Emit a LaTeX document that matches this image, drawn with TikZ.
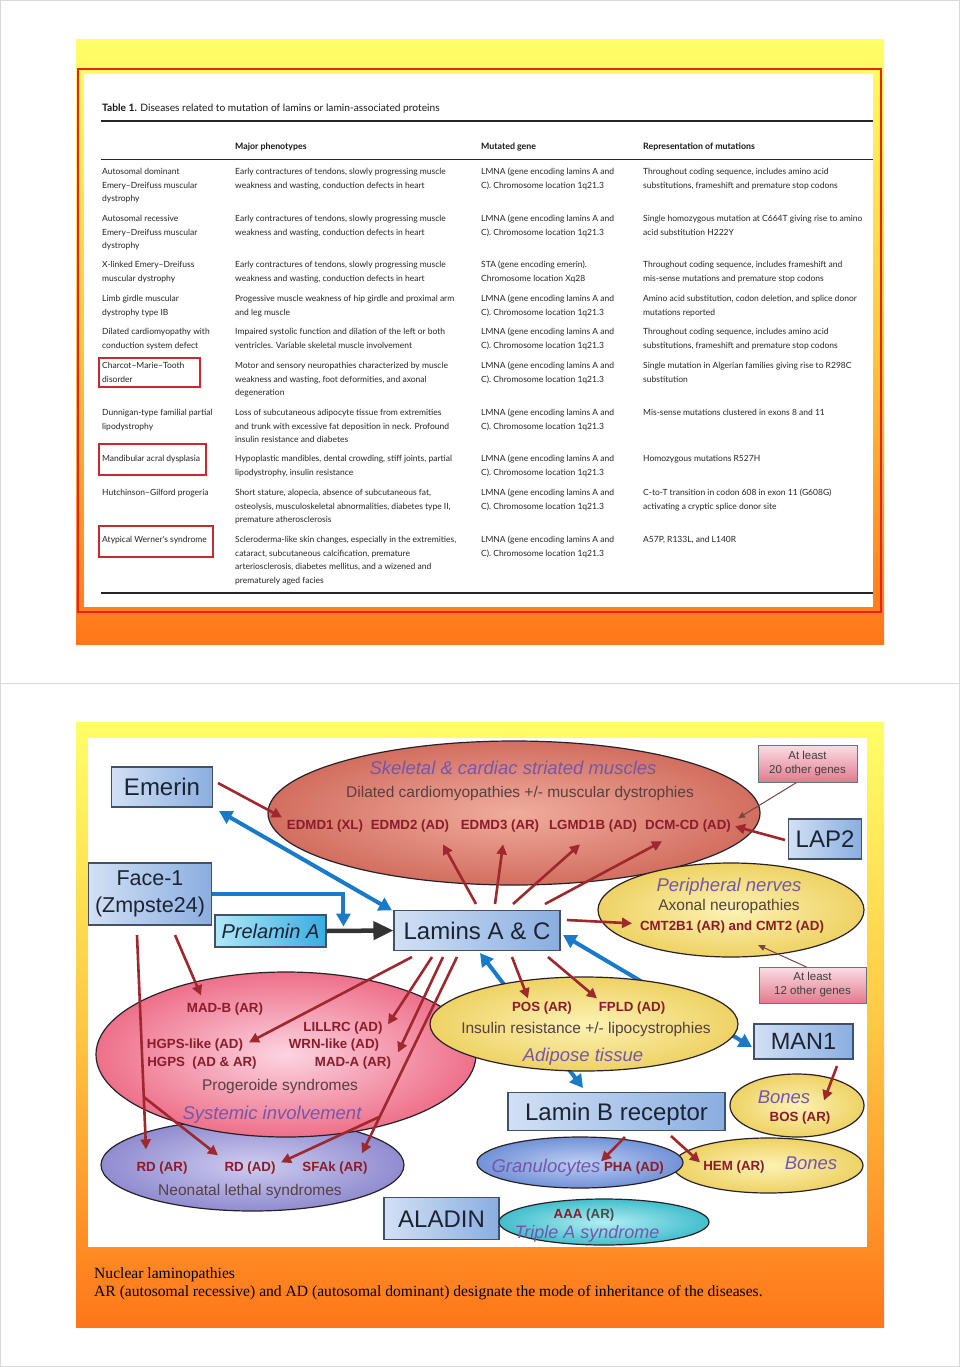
\documentclass[tikz,border=0pt]{standalone}
\usepackage{fontspec}
\setmainfont{Liberation Sans}
\newfontfamily\tabfont{Lato}
\newfontfamily\capfont{Liberation Serif}
\usetikzlibrary{arrows.meta,calc,shapes.geometric}
\definecolor{panY}{RGB}{255,255,102}
\definecolor{panM}{RGB}{255,200,66}
\definecolor{panO}{RGB}{255,118,26}
\definecolor{frameRed}{RGB}{232,34,30}
\definecolor{cellRed}{RGB}{200,40,48}
\definecolor{boxL}{RGB}{210,224,244}
\definecolor{boxR}{RGB}{138,174,224}
\definecolor{boxBorder}{RGB}{66,80,104}
\definecolor{boxText}{RGB}{28,36,52}
\definecolor{preL}{RGB}{176,232,248}
\definecolor{preR}{RGB}{56,172,224}
\definecolor{pinkT}{RGB}{250,222,228}
\definecolor{pinkB}{RGB}{226,122,142}
\definecolor{arrRed}{RGB}{158,40,46}
\definecolor{arrBlue}{RGB}{24,122,200}
\definecolor{thinC}{RGB}{120,70,70}
\definecolor{geneRed}{RGB}{138,28,44}
\definecolor{purp}{RGB}{118,86,170}
\definecolor{grayTxt}{RGB}{88,64,64}
\definecolor{ellBorder}{RGB}{40,34,40}
\definecolor{skIn}{RGB}{240,172,156}
\definecolor{skOut}{RGB}{210,110,96}
\definecolor{yeIn}{RGB}{252,242,180}
\definecolor{yeOut}{RGB}{238,210,100}
\definecolor{pkIn}{RGB}{252,212,224}
\definecolor{pkOut}{RGB}{238,112,138}
\definecolor{nnIn}{RGB}{206,204,240}
\definecolor{nnOut}{RGB}{144,140,208}
\definecolor{grIn}{RGB}{188,206,242}
\definecolor{grOut}{RGB}{114,146,216}
\definecolor{taIn}{RGB}{176,238,242}
\definecolor{taOut}{RGB}{66,190,204}
\newcommand{\tcell}[4]{\node[tcell] (#1) at (#2,#3-9.52) {\strut #4};}
\begin{document}
\begin{tikzpicture}[x=1pt,y=-1pt,
  tcell/.style={anchor=north west, inner sep=0pt, align=left, font=\tabfont\fontsize{8.5}{13.6}\selectfont, text=black!85},
  thead/.style={anchor=base west, inner sep=0pt, font=\tabfont\bfseries\fontsize{8.8}{10}\selectfont, text=black!90},
  bbox/.style={draw=boxBorder, line width=1.1pt, left color=boxL, right color=boxR, text=boxText, inner sep=0pt, font=\fontsize{24}{26}\selectfont, text height=17.2pt, text depth=0pt},
  pbox/.style={draw=boxBorder!80, line width=1pt, top color=pinkT, bottom color=pinkB, text=black!75, inner sep=0pt, align=center, font=\fontsize{11.5}{14}\selectfont},
  ell/.style={ellipse, draw=ellBorder, line width=1.2pt, inner sep=0pt},
  itl/.style={inner sep=0pt, anchor=base, font=\itshape\fontsize{18.5}{20}\selectfont, text=purp, yshift=-6.6pt},
  reg/.style={inner sep=0pt, anchor=base, font=\fontsize{15.5}{17}\selectfont, text=grayTxt, yshift=-5.6pt},
  gene/.style={inner sep=0pt, anchor=base, font=\bfseries\fontsize{13.3}{15}\selectfont, text=geneRed, yshift=-4.8pt},
  redarr/.style={draw=arrRed, line width=2.6pt, -{Triangle[length=10pt,width=10pt]}},
  bluearr/.style={draw=arrBlue, line width=4pt, {Triangle[length=13pt,width=14pt]}-{Triangle[length=13pt,width=14pt]}},
  bluearrone/.style={draw=arrBlue, line width=4pt, -{Triangle[length=13pt,width=14pt]}},
  blkarr/.style={draw=black!80, line width=4.5pt, -{Triangle[length=20pt,width=18pt]}},
  thinarr/.style={draw=thinC, line width=1pt, -{Triangle[length=7pt,width=6pt]}}
]
\useasboundingbox (0,0) rectangle (960,1367);
\fill[white] (0,0) rectangle (960,1367);
\draw[gray!30, line width=1pt] (0.5,0.5) rectangle (959.5,1366.5);
\draw[gray!30, line width=1pt] (0,683) -- (960,683);

% ---------- top panel ----------
\shade[top color=panY, bottom color=panO, middle color=panM] (76,40) rectangle (884,644);
\draw[frameRed, line width=2pt] (78,69) rectangle (881,612);
\fill[white] (84,74) rectangle (873,607);

\node[anchor=base west, inner sep=0pt, font=\tabfont\fontsize{10.2}{12}\selectfont, text=black!90] (ttl) at (102,112)
  {\textbf{Table 1.} Diseases related to mutation of lamins or lamin-associated proteins};
\draw[black!85, line width=1.8pt] (101,121) -- (873,121);
\node[thead] (h2) at (235,149.5) {Major phenotypes};
\node[thead] (h3) at (481,149.5) {Mutated gene};
\node[thead] (h4) at (643,149.5) {Representation of mutations};
\draw[black!85, line width=0.9pt] (101,159.5) -- (873,159.5);

\tcell{r1a}{102}{174.5}{Autosomal dominant\\Emery–Dreifuss muscular\\dystrophy}
\tcell{r1b}{235}{174.5}{Early contractures of tendons, slowly progressing muscle\\weakness and wasting, conduction defects in heart}
\tcell{r1c}{481}{174.5}{LMNA (gene encoding lamins A and\\C). Chromosome location 1q21.3}
\tcell{r1d}{643}{174.5}{Throughout coding sequence, includes amino acid\\substitutions, frameshift and premature stop codons}

\tcell{r2a}{102}{221.5}{Autosomal recessive\\Emery–Dreifuss muscular\\dystrophy}
\tcell{r2b}{235}{221.5}{Early contractures of tendons, slowly progressing muscle\\weakness and wasting, conduction defects in heart}
\tcell{r2c}{481}{221.5}{LMNA (gene encoding lamins A and\\C). Chromosome location 1q21.3}
\tcell{r2d}{643}{221.5}{Single homozygous mutation at C664T giving rise to amino\\acid substitution H222Y}

\tcell{r3a}{102}{267.5}{X-linked Emery–Dreifuss\\muscular dystrophy}
\tcell{r3b}{235}{267.5}{Early contractures of tendons, slowly progressing muscle\\weakness and wasting, conduction defects in heart}
\tcell{r3c}{481}{267.5}{STA (gene encoding emerin).\\Chromosome location Xq28}
\tcell{r3d}{643}{267.5}{Throughout coding sequence, includes frameshift and\\mis-sense mutations and premature stop codons}

\tcell{r4a}{102}{301.5}{Limb girdle muscular\\dystrophy type IB}
\tcell{r4b}{235}{301.5}{Progessive muscle weakness of hip girdle and proximal arm\\and leg muscle}
\tcell{r4c}{481}{301.5}{LMNA (gene encoding lamins A and\\C). Chromosome location 1q21.3}
\tcell{r4d}{643}{301.5}{Amino acid substitution, codon deletion, and splice donor\\mutations reported}

\tcell{r5a}{102}{334.5}{Dilated cardiomyopathy with\\conduction system defect}
\tcell{r5b}{235}{334.5}{Impaired systolic function and dilation of the left or both\\ventricles. Variable skeletal muscle involvement}
\tcell{r5c}{481}{334.5}{LMNA (gene encoding lamins A and\\C). Chromosome location 1q21.3}
\tcell{r5d}{643}{334.5}{Throughout coding sequence, includes amino acid\\substitutions, frameshift and premature stop codons}

\tcell{r6a}{102}{368.5}{Charcot–Marie–Tooth\\disorder}
\tcell{r6b}{235}{368.5}{Motor and sensory neuropathies characterized by muscle\\weakness and wasting, foot deformities, and axonal\\degeneration}
\tcell{r6c}{481}{368.5}{LMNA (gene encoding lamins A and\\C). Chromosome location 1q21.3}
\tcell{r6d}{643}{368.5}{Single mutation in Algerian families giving rise to R298C\\substitution}

\tcell{r7a}{102}{415.5}{Dunnigan-type familial partial\\lipodystrophy}
\tcell{r7b}{235}{415.5}{Loss of subcutaneous adipocyte tissue from extremities\\and trunk with excessive fat deposition in neck. Profound\\insulin resistance and diabetes}
\tcell{r7c}{481}{415.5}{LMNA (gene encoding lamins A and\\C). Chromosome location 1q21.3}
\tcell{r7d}{643}{415.5}{Mis-sense mutations clustered in exons 8 and 11}

\tcell{r8a}{102}{461.5}{Mandibular acral dysplasia}
\tcell{r8b}{235}{461.5}{Hypoplastic mandibles, dental crowding, stiff joints, partial\\lipodystrophy, insulin resistance}
\tcell{r8c}{481}{461.5}{LMNA (gene encoding lamins A and\\C). Chromosome location 1q21.3}
\tcell{r8d}{643}{461.5}{Homozygous mutations R527H}

\tcell{r9a}{102}{495.5}{Hutchinson–Gilford progeria}
\tcell{r9b}{235}{495.5}{Short stature, alopecia, absence of subcutaneous fat,\\osteolysis, musculoskeletal abnormalities, diabetes type II,\\premature atherosclerosis}
\tcell{r9c}{481}{495.5}{LMNA (gene encoding lamins A and\\C). Chromosome location 1q21.3}
\tcell{r9d}{643}{495.5}{C-to-T transition in codon 608 in exon 11 (G608G)\\activating a cryptic splice donor site}

\tcell{r10a}{102}{542.5}{Atypical Werner's syndrome}
\tcell{r10b}{235}{542.5}{Scleroderma-like skin changes, especially in the extremities,\\cataract, subcutaneous calcification, premature\\arteriosclerosis, diabetes mellitus, and a wizened and\\prematurely aged facies}
\tcell{r10c}{481}{542.5}{LMNA (gene encoding lamins A and\\C). Chromosome location 1q21.3}
\tcell{r10d}{643}{542.5}{A57P, R133L, and L140R}

\draw[black!85, line width=1.6pt] (101,593) -- (873,593);
\draw[cellRed, line width=1.2pt] (99,358) rectangle (200,387);
\draw[cellRed, line width=1.2pt] (99,444) rectangle (206,475);
\draw[cellRed, line width=1.2pt] (99,526) rectangle (213,557);

% ---------- bottom panel ----------
\shade[top color=panY, bottom color=panO, middle color=panM] (76,722) rectangle (884,1327);
\fill[white] (88,738) rectangle (867,1247);

% boxes
\node[bbox, minimum width=101pt, minimum height=40pt] (emerin) at (162,787) {Emerin};
\node[bbox, minimum width=123pt, minimum height=62pt, align=center, font=\fontsize{21.5}{27}\selectfont, text height=, text depth=] (face) at (150,894) {Face-1\\(Zmpste24)};
\node[bbox, minimum width=111pt, minimum height=32pt, left color=preL, right color=preR, font=\itshape\fontsize{20}{22}\selectfont, text height=14.3pt] (prelamin) at (270.5,931) {Prelamin A};
\node[bbox, minimum width=166pt, minimum height=40pt] (lamins) at (477,930.5) {Lamins A \& C};
\node[bbox, minimum width=73pt, minimum height=40pt] (lap2) at (825,839) {LAP2};
\node[bbox, minimum width=99pt, minimum height=35pt, font=\fontsize{23.5}{26}\selectfont, text height=16.8pt] (man1) at (803.5,1041.5) {MAN1};
\node[bbox, minimum width=217pt, minimum height=38pt] (lbr) at (616.5,1111.5) {Lamin B receptor};
\node[bbox, minimum width=115pt, minimum height=42pt] (aladin) at (441.5,1218.5) {ALADIN};
\node[pbox, minimum width=99pt, minimum height=37pt] (atl20) at (807.5,763.5) {At least\\20 other genes};
\node[pbox, minimum width=107pt, minimum height=36pt] (atl12) at (812.5,985) {At least\\12 other genes};

% blue connectors passing behind the adipose ellipse
\draw[bluearr] ($(lbr)+(-33.5,-23.5)$) -- ($(lamins)+(3,22.5)$);
\draw[bluearr] ($(man1)+(-51.5,5.5)$) -- ($(lamins)+(86,4.5)$);

% ellipses
\node[ell, minimum width=492pt, minimum height=144pt, inner color=skIn, outer color=skOut] (skel) at (514,813) {};
\node[ell, minimum width=266pt, minimum height=94pt, inner color=yeIn, outer color=yeOut] (periph) at (731,910) {};
\node[ell, minimum width=303pt, minimum height=92pt, inner color=nnIn, outer color=nnOut] (neon) at (252.5,1165) {};
\node[ell, minimum width=380pt, minimum height=165pt, inner color=pkIn, outer color=pkOut] (prog) at (286,1054.5) {};
\node[ell, minimum width=308pt, minimum height=94pt, inner color=yeIn, outer color=yeOut] (adip) at (584,1024) {};
\node[ell, minimum width=134pt, minimum height=63pt, inner color=yeIn, outer color=yeOut] (bones1) at (797,1105.5) {};
\node[ell, minimum width=190pt, minimum height=55pt, inner color=yeIn, outer color=yeOut] (bones2) at (768,1165.5) {};
\node[ell, minimum width=206pt, minimum height=51pt, inner color=grIn, outer color=grOut] (gran) at (580,1162.5) {};
\node[ell, minimum width=210pt, minimum height=46pt, inner color=taIn, outer color=taOut] (triple) at (604,1222) {};

% labels
\node[itl] (sk1) at (513,768) {Skeletal \& cardiac striated muscles};
\node[reg] (sk2) at (520,792) {Dilated cardiomyopathies +/- muscular dystrophies};
\node[gene] (edmd1) at (325,825) {EDMD1 (XL)};
\node[gene] (edmd2) at (410,825) {EDMD2 (AD)};
\node[gene] (edmd3) at (500,825) {EDMD3 (AR)};
\node[gene] (lgmd) at (593,825) {LGMD1B (AD)};
\node[gene] (dcm) at (688,825) {DCM-CD (AD)};

\node[itl] (pn1) at (729,885) {Peripheral nerves};
\node[reg] (pn2) at (729,905) {Axonal neuropathies};
\node[gene] (cmt) at (732,926) {CMT2B1 (AR) and CMT2 (AD)};

\node[gene] (madb) at (225,1008) {MAD-B (AR)};
\node[gene] (lillrc) at (343,1027) {LILLRC (AD)};
\node[gene] (hgpsl) at (195,1044) {HGPS-like (AD)};
\node[gene] (wrnl) at (334,1044) {WRN-like (AD)};
\node[gene] (hgps) at (202,1062) {HGPS\ \ (AD \& AR)};
\node[gene] (mada) at (353,1062) {MAD-A (AR)};
\node[reg] (prog1) at (280,1085) {Progeroide syndromes};
\node[itl] (prog2) at (272,1113) {Systemic involvement};

\node[gene] (rdar) at (162,1167) {RD (AR)};
\node[gene] (rdad) at (250,1167) {RD (AD)};
\node[gene] (sfak) at (335,1167) {SFAk (AR)};
\node[reg] (neon1) at (250,1190) {Neonatal lethal syndromes};

\node[gene] (posl) at (542,1007) {POS (AR)};
\node[gene] (fpld) at (632,1007) {FPLD (AD)};
\node[reg] (adip1) at (586,1028) {Insulin resistance +/- lipocystrophies};
\node[itl] (adip2) at (583,1055) {Adipose tissue};

\node[itl] (bo1) at (784,1097) {Bones};
\node[gene] (bos) at (800,1117) {BOS (AR)};

\node[itl] (gr1) at (546,1166) {Granulocytes};
\node[gene] (pha) at (634,1167) {PHA (AD)};
\node[gene] (hem) at (734,1166) {HEM (AR)};
\node[itl] (bo2) at (811,1163) {Bones};

\node[gene, text=black!70] (aaa) at (584,1214) {\textcolor{geneRed}{AAA} (AR)};
\node[itl, font=\itshape\fontsize{18}{20}\selectfont] (tri1) at (587,1232) {Triple A syndrome};

% red connectors
\draw[redarr] ($(emerin)+(56,-4)$) -- ($(edmd1)+(-43,-9)$);
\draw[redarr] ($(lamins)+(-1,-26.5)$) -- ($(edmd2)+(33,18)$);
\draw[redarr] ($(lamins)+(18,-26.5)$) -- ($(edmd3)+(3,18)$);
\draw[redarr] ($(lamins)+(36,-26.5)$) -- ($(lgmd)+(-13,18)$);
\draw[redarr] ($(lamins)+(68,-26.5)$) -- ($(dcm)+(-26,15)$);
\draw[redarr] ($(lap2)+(-40,1)$) -- ($(dcm)+(47,0)$);
\draw[redarr] ($(lamins)+(90,-10.5)$) -- ($(cmt)+(-100,-4)$);
\draw[redarr] ($(lamins)+(35,26.5)$) -- ($(posl)+(-14,-10)$);
\draw[redarr] ($(lamins)+(71,26.5)$) -- ($(fpld)+(-35,-10)$);
\draw[redarr] ($(man1)+(33.5,24.5)$) -- ($(bos)+(24,-18)$);
\draw[redarr] ($(lbr)+(8.5,25.5)$) -- ($(pha)+(-33,-7)$);
\draw[redarr] ($(lbr)+(54.5,24.5)$) -- ($(hem)+(-34,-5)$);

\coordinate (br1) at ($(face)+(-6.2,203)$);
\draw[redarr] ($(face)+(-13,41)$) -- ($(rdar)+(-16,-19)$);
\draw[redarr] ($(face)+(25,41)$) -- ($(madb)+(-24,-14)$);
\draw[redarr] (br1) -- ($(rdad)+(-32,-13)$);
\draw[redarr] ($(lamins)+(-65,26.5)$) -- ($(hgpsl)+(54,-3)$);
\draw[redarr] ($(lamins)+(-45,26.5)$) -- ($(lillrc)+(45,-4)$);
\draw[redarr] ($(lamins)+(-34,26.5)$) -- ($(wrnl)+(64,7)$);
\coordinate (br2) at (379,1117);
\draw[redarr] ($(lamins)+(-20,26.5)$) -- ($(sfak)+(27,-15)$);
\draw[redarr] (br2) -- ($(rdad)+(31,-6)$);

% thin connectors
\draw[thinarr] ($(atl20)+(-11,19)$) -- ($(dcm)+(50,-8)$);
\draw[thinarr] ($(atl12)+(-6,-18)$) -- ($(periph)+(27,35)$);

% blue and black connectors
\draw[bluearr] ($(emerin)+(57,24)$) -- ($(lamins)+(-85,-20)$);
\coordinate (elb) at ($(lamins.west)+(-50,-4)$);
\draw[bluearrone] (face.east) -| (elb);
\draw[blkarr] (prelamin.east) -- (lamins.west);

% caption
\node[anchor=base west, inner sep=0pt, font=\capfont\fontsize{15.6}{18}\selectfont] (cap1) at (94,1278) {Nuclear laminopathies};
\node[anchor=base west, inner sep=0pt, font=\capfont\fontsize{15.6}{18}\selectfont] (cap2) at (94,1296) {AR (autosomal recessive) and AD (autosomal dominant) designate the mode of inheritance of the diseases.};
\end{tikzpicture}
\end{document}
